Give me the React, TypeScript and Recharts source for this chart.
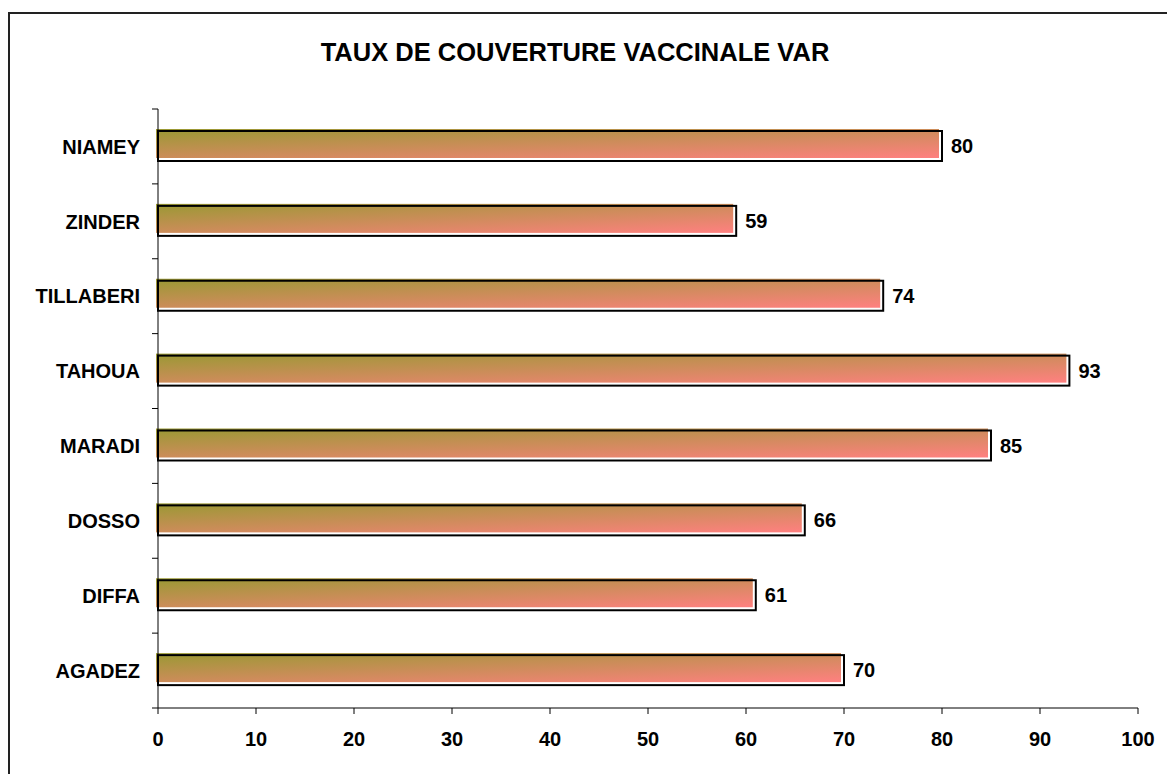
import React from 'react';
import { BarChart, Bar, XAxis, YAxis, LabelList } from 'recharts';

const categories = ['NIAMEY', 'ZINDER', 'TILLABERI', 'TAHOUA', 'MARADI', 'DOSSO', 'DIFFA', 'AGADEZ'];
const coverage = [80, 59, 74, 93, 85, 66, 61, 70];
const xTicks = [0, 10, 20, 30, 40, 50, 60, 70, 80, 90, 100];
const title = 'TAUX DE COUVERTURE VACCINALE VAR';

const data = categories.map((name, i) => ({ name, value: coverage[i] }));

const FONT = "Arial, 'Liberation Sans', Helvetica, sans-serif";
const W = 1167;
const H = 774;
const MARGIN = { top: 109, right: 29, bottom: 36, left: 8 };
const Y_AXIS_W = 150;
const X_AXIS_H = 30;
const plotH = H - MARGIN.top - MARGIN.bottom - X_AXIS_H;
const band = plotH / categories.length;

const BarShape = (props: any) => {
  const { x, y, width, height } = props;
  if (width == null || width <= 0) return null;
  return (
    <g>
      <rect x={x - 2} y={y - 2} width={Math.max(width - 1, 0)} height={height - 1} fill="url(#barGrad)" />
      <rect x={x} y={y} width={width} height={height} fill="none" stroke="#000" strokeWidth={2} />
    </g>
  );
};

const CatTick = (props: any) => {
  const { x, y, payload, index } = props;
  const axisX = x + 18;
  const top = y - band / 2;
  return (
    <g>
      <line x1={axisX - 6} x2={axisX} y1={top} y2={top} stroke="#000" strokeWidth={1} />
      {index === categories.length - 1 && (
        <line x1={axisX - 6} x2={axisX} y1={y + band / 2} y2={y + band / 2} stroke="#000" strokeWidth={1} />
      )}
      <text x={x} y={y} dy="0.36em" textAnchor="end" fontFamily={FONT} fontWeight="bold" fontSize={20} fill="#000">
        {payload.value}
      </text>
    </g>
  );
};

export default function App() {
  return (
    <div style={{ position: 'absolute', left: 0, top: 0, width: W, height: H, overflow: 'hidden', background: '#fff' }}>
      <div
        style={{
          position: 'absolute',
          left: 8,
          top: 12,
          width: W - 8,
          height: H - 12,
          boxSizing: 'border-box',
          borderTop: '2px solid #222',
          borderLeft: '2px solid #222',
        }}
      />
      <div
        style={{
          position: 'absolute',
          left: 0,
          width: 1150,
          top: 36,
          textAlign: 'center',
          fontFamily: FONT,
          fontWeight: 'bold',
          fontSize: 25.5,
          lineHeight: '32px',
          color: '#000',
        }}
      >
        {title}
      </div>
      <div style={{ position: 'absolute', left: 0, top: 0 }}>
        <BarChart width={W} height={H} data={data} layout="vertical" margin={MARGIN} barCategoryGap={0}>
          <defs>
            <linearGradient id="barGrad" x1="0" y1="0" x2="1" y2="1">
              <stop offset="0%" stopColor="#999933" />
              <stop offset="100%" stopColor="#ff8080" />
            </linearGradient>
          </defs>
          <XAxis
            type="number"
            domain={[0, 100]}
            ticks={xTicks}
            interval={0}
            height={X_AXIS_H}
            axisLine={{ stroke: '#000', strokeWidth: 1 }}
            tickLine={{ stroke: '#000', strokeWidth: 1 }}
            tickSize={6}
            tickMargin={18}
            tick={{ fill: '#000', fontFamily: FONT, fontWeight: 'bold', fontSize: 20 }}
          />
          <YAxis
            type="category"
            dataKey="name"
            width={Y_AXIS_W}
            axisLine={{ stroke: '#000', strokeWidth: 1 }}
            tickLine={false}
            tickSize={6}
            tickMargin={12}
            interval={0}
            tick={<CatTick />}
          />
          <Bar dataKey="value" barSize={30} shape={<BarShape />} isAnimationActive={false}>
            <LabelList
              dataKey="value"
              position="right"
              offset={9}
              fill="#000"
              fontFamily={FONT}
              fontWeight="bold"
              fontSize={20}
            />
          </Bar>
        </BarChart>
      </div>
    </div>
  );
}
